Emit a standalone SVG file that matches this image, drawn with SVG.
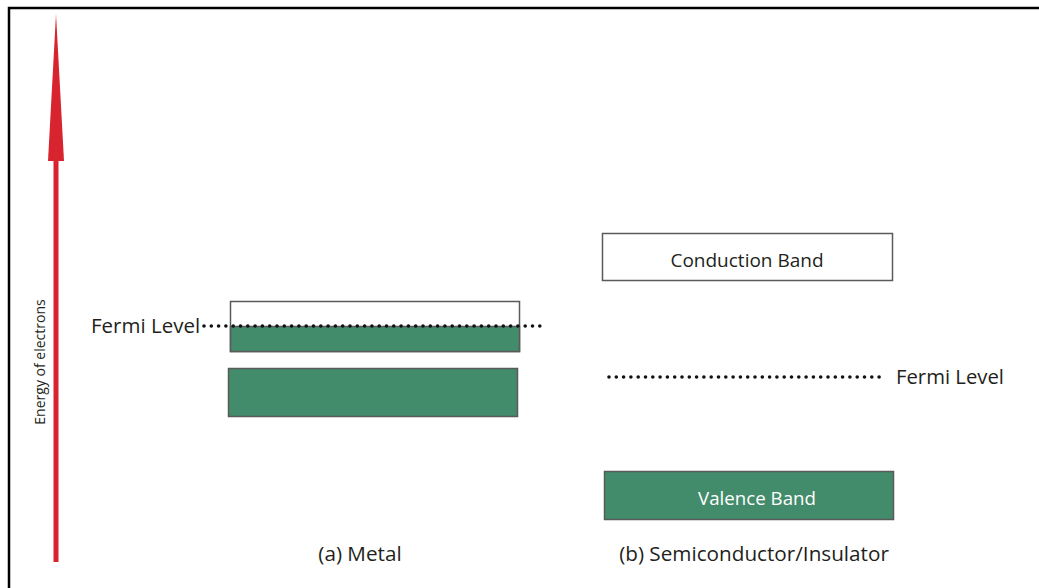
<svg xmlns="http://www.w3.org/2000/svg" width="1039" height="588" viewBox="0 0 1039 588">
<style>
.t{font-family:"Open Sans","Liberation Sans",sans-serif;fill:#231f20}
.band{stroke:#5a5a5a;stroke-width:1.5}
.g{fill:#428b6b}
.w{fill:#fff}
.dot{stroke:#111;stroke-width:3.6;stroke-linecap:round;stroke-dasharray:0 7.3;fill:none}
</style>
<rect width="1039" height="588" fill="#fff"/>
<path d="M9 588 V8 H1039" fill="none" stroke="#000" stroke-width="2.5"/>
<g id="energy-axis">
<rect x="53.5" y="160" width="5" height="402" fill="#d7242f"/>
<polygon points="56,14 64,161 48,161" fill="#d7242f"/>
<text class="t" transform="translate(45,362) rotate(-90)" text-anchor="middle" font-size="14">Energy of electrons</text>
</g>
<g id="metal-upper">
<rect class="band w" x="230.5" y="301.5" width="289" height="50"/>
<rect class="band g" x="230.5" y="326.5" width="289" height="25"/>
</g>
<g id="metal-lower">
<rect class="band g" x="228.5" y="368.5" width="289" height="48"/>
</g>
<g id="conduction-band">
<rect class="band w" x="602.5" y="233.5" width="290" height="47"/>
<text class="t" x="747" y="267" text-anchor="middle" font-size="19">Conduction Band</text>
</g>
<g id="valence-band">
<rect class="band g" x="604.5" y="471.5" width="289" height="48"/>
<text class="t" x="757" y="505" text-anchor="middle" font-size="18.7" style="fill:#fff">Valence Band</text>
</g>
<g id="connectors">
<path class="dot" d="M204 326 H545"/>
<path class="dot" d="M609 377 H886"/>
</g>
<g id="fermi-metal"><text class="t" x="91" y="333" font-size="20.5">Fermi Level</text></g>
<g id="fermi-semi"><text class="t" x="896" y="384" font-size="20.3">Fermi Level</text></g>
<g id="label-a"><text class="t" x="360" y="561" text-anchor="middle" font-size="20.7">(a) Metal</text></g>
<g id="label-b"><text class="t" x="754" y="561" text-anchor="middle" font-size="20.7">(b) Semiconductor/Insulator</text></g>
</svg>
